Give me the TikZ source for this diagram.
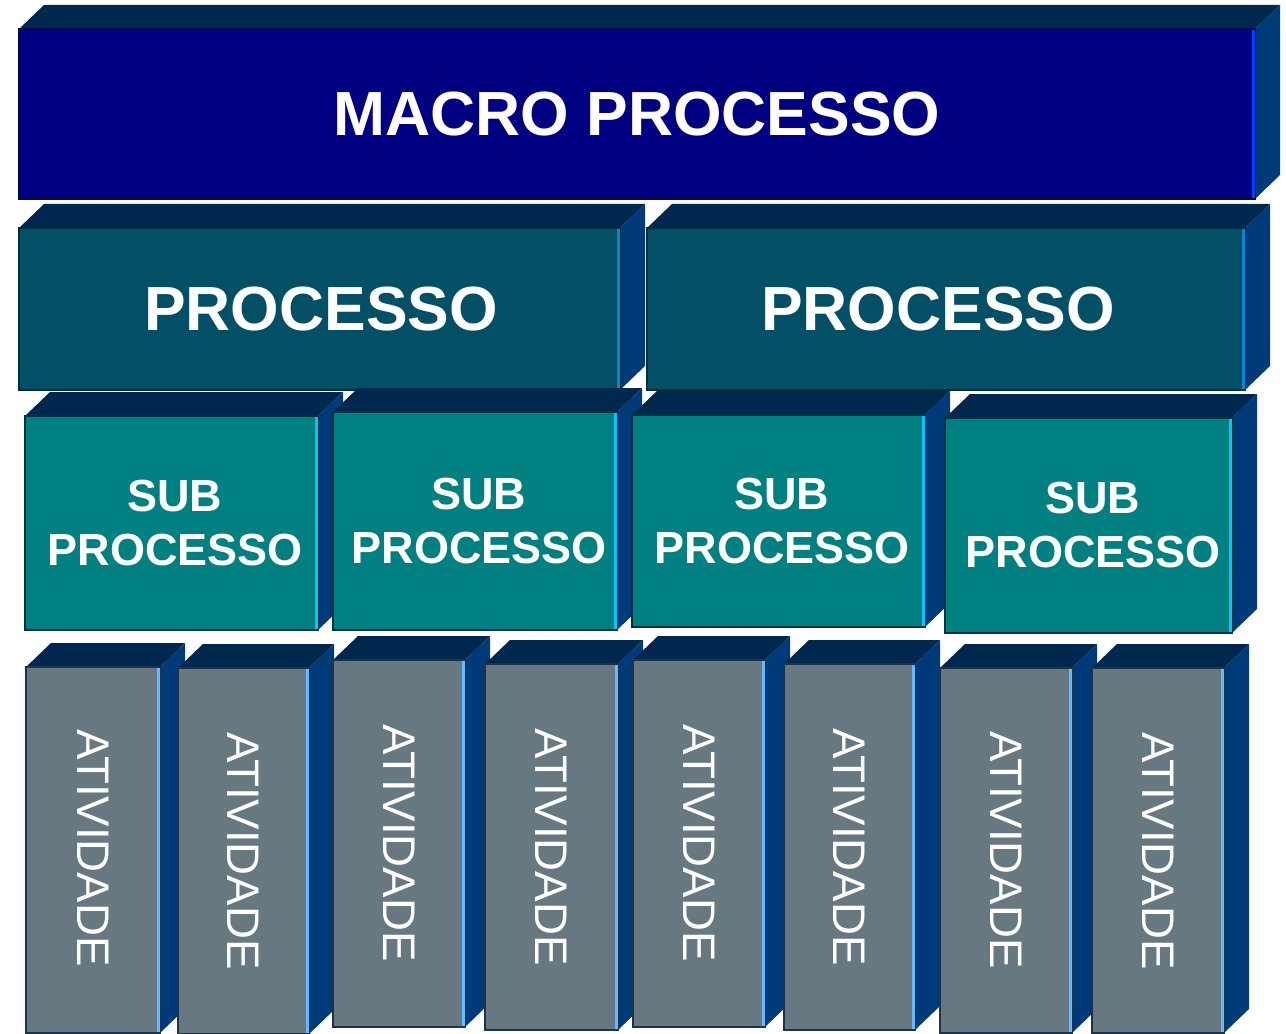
\documentclass[tikz,border=0pt]{standalone}
\usepackage{fontspec}
\setmainfont{Liberation Sans}

\definecolor{topoazul}{RGB}{0,40,78}
\definecolor{ladoazul}{RGB}{0,58,120}
\definecolor{macroazul}{RGB}{0,0,128}
\definecolor{procazul}{RGB}{3,79,102}
\definecolor{subverde}{RGB}{0,128,128}
\definecolor{ativcinza}{RGB}{104,120,128}
\definecolor{macroborda}{RGB}{0,12,64}
\definecolor{procborda}{RGB}{0,45,60}
\definecolor{subborda}{RGB}{0,50,64}
\definecolor{ativborda}{RGB}{30,50,72}
\definecolor{macrorealce}{RGB}{0,64,255}
\definecolor{procrealce}{RGB}{0,136,221}
\definecolor{subrealce}{RGB}{0,200,255}
\definecolor{ativrealce}{RGB}{102,184,255}

% bloco 3D: x0, y0, x1, y1 da frente, estilo da frente, cor do realce
\newcommand{\bloco}[6]{%
  \fill[topo] (#1,#2) -- ++(25,-24) -- (#3+25,#2-24) -- (#3,#2) -- cycle;
  \fill[lado] (#3,#2) -- ++(25,-24) -- (#3+25,#4-24) -- (#3,#4) -- cycle;
  \draw[#5] (#1,#2) rectangle (#3,#4);
  \draw[realce, #6] (#3-1.5,#2+1) -- (#3-1.5,#4-1);
}

\begin{document}
\begin{tikzpicture}
[x=0.02cm, y=-0.02cm,
 topo/.style={fill=topoazul},
 lado/.style={fill=ladoazul},
 realce/.style={line width=0.06cm},
 macrofrente/.style={fill=macroazul, draw=macroborda, line width=0.04cm},
 procfrente/.style={fill=procazul, draw=procborda, line width=0.04cm},
 subfrente/.style={fill=subverde, draw=subborda, line width=0.04cm},
 ativfrente/.style={fill=ativcinza, draw=ativborda, line width=0.04cm},
 grande/.style={text=white, inner sep=0pt, font=\bfseries\fontsize{35.5pt}{40pt}\selectfont},
 medio/.style={text=white, inner sep=0pt, align=center, font=\bfseries\fontsize{25.6pt}{30.7pt}\selectfont},
 vertical/.style={text=white, inner sep=0pt, rotate=-90, font=\fontsize{26pt}{30pt}\selectfont},
]
\useasboundingbox (0,0) rectangle (1286,1034);

%MACRO PROCESSO
\bloco{19}{29}{1255}{199}{macrofrente}{macrorealce}
\node[grande] (macro) at (637,114) {MACRO PROCESSO};

%PROCESSOS
\bloco{19}{228}{620}{390}{procfrente}{procrealce}
\node[grande] (proc1) at (321,309) {PROCESSO};

\bloco{647}{228}{1245}{390}{procfrente}{procrealce}
\node[grande] (proc2) at (938,309) {PROCESSO};

%SUB PROCESSOS
\bloco{25}{416}{318}{630}{subfrente}{subrealce}
\node[medio] (sub1) at (175,523) {SUB\\PROCESSO};

\bloco{333}{412}{617}{630}{subfrente}{subrealce}
\node[medio] (sub2) at (479,521) {SUB\\PROCESSO};

\bloco{632}{415}{925}{627}{subfrente}{subrealce}
\node[medio] (sub3) at (782,521) {SUB\\PROCESSO};

\bloco{945}{418}{1232}{633}{subfrente}{subrealce}
\node[medio] (sub4) at (1093,525) {SUB\\PROCESSO};

%ATIVIDADES
\bloco{26}{667}{160}{1033}{ativfrente}{ativrealce}
\node[vertical] (ativ1) at (93,848) {ATIVIDADE};

\bloco{178}{668}{309}{1034}{ativfrente}{ativrealce}
\node[vertical] (ativ2) at (243,851) {ATIVIDADE};

\bloco{333}{660}{465}{1027}{ativfrente}{ativrealce}
\node[vertical] (ativ3) at (399,843) {ATIVIDADE};

\bloco{485}{664}{618}{1030}{ativfrente}{ativrealce}
\node[vertical] (ativ4) at (551,847) {ATIVIDADE};

\bloco{633}{660}{765}{1027}{ativfrente}{ativrealce}
\node[vertical] (ativ5) at (699,843) {ATIVIDADE};

\bloco{784}{664}{915}{1030}{ativfrente}{ativrealce}
\node[vertical] (ativ6) at (849,847) {ATIVIDADE};

\bloco{940}{668}{1072}{1033}{ativfrente}{ativrealce}
\node[vertical] (ativ7) at (1006,850) {ATIVIDADE};

\bloco{1092}{668}{1224}{1033}{ativfrente}{ativrealce}
\node[vertical] (ativ8) at (1158,851) {ATIVIDADE};

\end{tikzpicture}
\end{document}
